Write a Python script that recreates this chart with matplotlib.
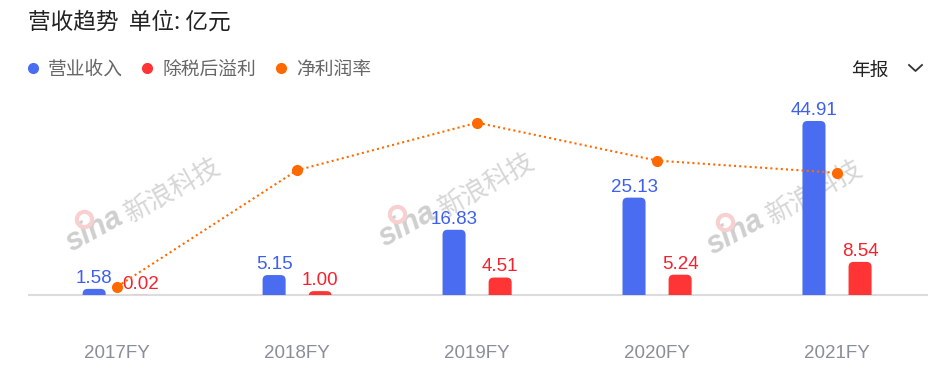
import matplotlib
matplotlib.use("Agg")
import matplotlib.pyplot as plt
from matplotlib.patches import FancyBboxPatch
from matplotlib.lines import Line2D
import numpy as np

# data (亿元, %)
years = ["2017FY", "2018FY", "2019FY", "2020FY", "2021FY"]
revenue = [1.58, 5.15, 16.83, 25.13, 44.91]
profit = [0.02, 1.00, 4.51, 5.24, 8.54]
margin = [1.3, 19.4, 26.8, 20.9, 19.0]

BLUE = "#4a6cf0"
RED = "#ff3434"
ORANGE = "#ff6a00"
CJK = ["Noto Sans CJK SC", "DejaVu Sans"]
NUM = ["Liberation Sans", "DejaVu Sans"]

W, H = 950, 384
fig = plt.figure(figsize=(W / 100, H / 100), dpi=100)
fig.patch.set_facecolor("white")

# axes: x 29..927 px, baseline at y=295, top at y=100
ax = fig.add_axes([29 / W, (H - 295) / H, 898 / W, 195 / H])
ax.set_xlim(-0.49, 4.5)
ax.set_ylim(0, 195 / 3.875)

x = np.arange(len(years))
bw = 0.128
b1 = ax.bar(x - bw, revenue, bw, color=BLUE, zorder=3)
b2 = ax.bar(x + bw, profit, bw, color=RED, zorder=3)

# rounded tops: swap each rect for a rounded box that dips below the baseline
x_per_px = (4.5 + 0.49) / 898
y_per_px = (195 / 3.875) / 195
aspect = y_per_px / x_per_px
for bars in (b1, b2):
    for r in bars:
        bx, bwid, bh = r.get_x(), r.get_width(), r.get_height()
        col = r.get_facecolor()
        r.set_visible(False)
        p = FancyBboxPatch((bx, -3), bwid, bh + 3,
                           boxstyle="round,pad=0,rounding_size=%f" % (5 * x_per_px),
                           mutation_aspect=aspect, fc=col, ec="none", zorder=3)
        ax.add_patch(p)

for xi, v in zip(x - bw, revenue):
    ax.annotate(f"{v:.2f}", (xi, v), xytext=(0, 1.5), textcoords="offset points",
                ha="center", va="bottom", color="#3d60ee", fontsize=13.5, family=NUM, zorder=5)
for xi, v in zip(x + bw, profit):
    ax.annotate(f"{v:.2f}", (xi, v), xytext=(0, 1.5), textcoords="offset points",
                ha="center", va="bottom", color="#f5222d", fontsize=13.5, family=NUM, zorder=5)

for s in ("top", "left", "right"):
    ax.spines[s].set_visible(False)
ax.spines["bottom"].set_color("#dcdcdc")
ax.spines["bottom"].set_linewidth(1.5)
ax.set_yticks([])
ax.set_xticks(x)
ax.set_xticklabels(years, fontsize=13.5, color="#8a8e99", family=NUM)
ax.tick_params(axis="x", length=0, pad=36)

# watermarks
for wx, wy in [(0.051, 0.19), (0.40, 0.215), (0.765, 0.175)]:
    ax.text(wx, wy, "sina", transform=ax.transAxes, rotation=29, fontsize=22,
            fontweight="bold", style="italic", color="#cfcfcf", family=NUM,
            ha="left", va="bottom", zorder=1, rotation_mode="anchor")
    ax.plot([wx + 0.01], [wy + 0.2], transform=ax.transAxes, marker="o",
            markersize=11, mfc="none", mec="#f8d0d0", mew=3, zorder=1)
    ax.text(wx + 0.066, wy + 0.155, "新浪科技", transform=ax.transAxes, rotation=29,
            fontsize=19, color="#d6d6d6", family=CJK, ha="left", va="bottom",
            zorder=1, rotation_mode="anchor")

# net margin on a second axis
ax2 = ax.twinx()
ax2.set_ylim(0, 195 / 6.43)
ax2.plot(x, margin, color=ORANGE, linestyle=(0, (1, 1.5)), linewidth=1.5,
         marker="o", markersize=7, zorder=4)
ax2.set_yticks([])
for s in ax2.spines.values():
    s.set_visible(False)

# title and legend
fig.text(28 / W, 1 - 22 / H, "营收趋势  单位: 亿元", fontsize=16.3, color="#222222",
         family=CJK, va="center", ha="left")
legend = [("营业收入", BLUE, 33), ("除税后溢利", RED, 147), ("净利润率", ORANGE, 281)]
for lab, col, px in legend:
    fig.add_artist(Line2D([px / W], [1 - 68 / H], marker="o", markersize=7,
                          color=col, transform=fig.transFigure))
    fig.text((px + 15) / W, 1 - 69 / H, lab, fontsize=13.5, color="#666666",
             family=CJK, va="center", ha="left")

fig.text(851 / W, 1 - 70 / H, "年报", fontsize=13.5, color="#222222",
         family=CJK, va="center", ha="left")
fig.add_artist(Line2D([909 / W, 915.5 / W, 922 / W],
                      [1 - 65 / H, 1 - 71 / H, 1 - 65 / H],
                      color="#333333", linewidth=1.3, transform=fig.transFigure))

fig.savefig("out.png", dpi=100)
